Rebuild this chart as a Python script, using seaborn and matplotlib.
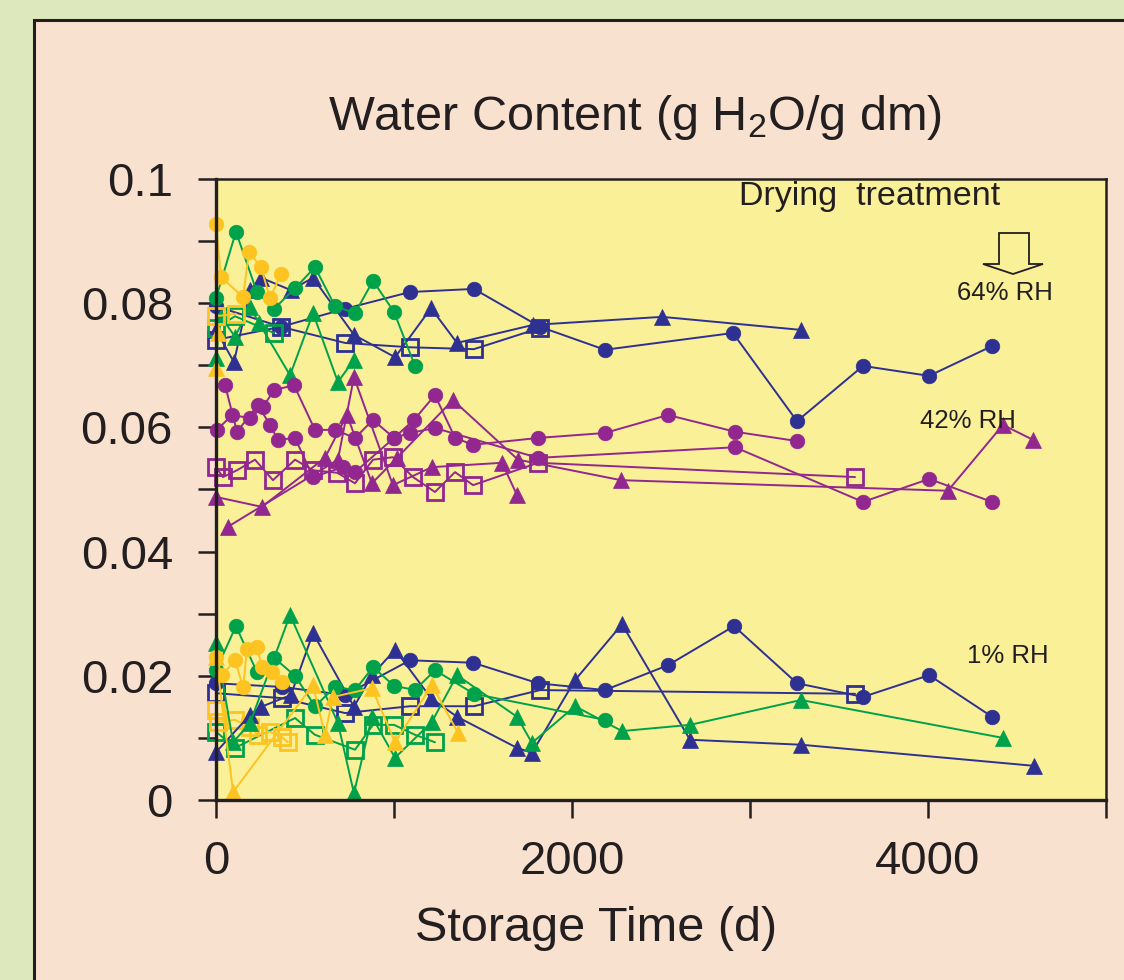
import numpy as np
import pandas as pd
import matplotlib
matplotlib.use("Agg")
import matplotlib.pyplot as plt
import seaborn as sns
from matplotlib.patches import Rectangle, Polygon
from matplotlib.ticker import FixedLocator, FuncFormatter

# ---------------- data (storage time in days, water content g H2O / g dm) ----------------
# 64% RH
nav_c64_x = [0, 365, 725, 1090, 1449, 1820, 2185, 2904, 3264, 3635, 4006, 4360]
nav_c64_y = [0.0795, 0.0762, 0.0791, 0.0818, 0.0823, 0.0762, 0.0725, 0.0752, 0.0610, 0.0699, 0.0683, 0.0731]
nav_t64_x = [0, 101, 191, 253, 421, 545, 775, 1006, 1208, 1354, 1781, 2506, 3287]
nav_t64_y = [0.0757, 0.0705, 0.0821, 0.0841, 0.0821, 0.0841, 0.0749, 0.0713, 0.0792, 0.0736, 0.0765, 0.0778, 0.0757]
nav_s64_x = [0, 365, 725, 1090, 1449, 1820]
nav_s64_y = [0.0741, 0.0762, 0.0736, 0.0729, 0.0726, 0.0760]
grn_c64_x = [0, 112, 230, 326, 444, 556, 669, 781, 882, 1000, 1118]
grn_c64_y = [0.0808, 0.0915, 0.0818, 0.0791, 0.0824, 0.0858, 0.0795, 0.0784, 0.0836, 0.0786, 0.0699]
grn_t64_x = [0, 28, 107, 191, 242, 416, 545, 685, 775]
grn_t64_y = [0.0712, 0.0778, 0.0746, 0.0794, 0.0768, 0.0684, 0.0784, 0.0673, 0.0709]
grn_s64_x = [0, 107, 326]
grn_s64_y = [0.0760, 0.0779, 0.0752]
yel_c64_x = [0, 28, 152, 185, 253, 303, 365]
yel_c64_y = [0.0928, 0.0842, 0.0810, 0.0882, 0.0858, 0.0808, 0.0847]
yel_t64_x = [0, 11]
yel_t64_y = [0.0696, 0.0752]
yel_s64_x = [0, 112]
yel_s64_y = [0.0779, 0.0783]

# 42% RH
pur_c1_x = [6, 90, 191, 264, 326, 438, 556, 669, 781, 882, 1000, 1112, 1230, 1343, 1444, 1809, 2185, 2539, 2916, 3264]
pur_c1_y = [0.0596, 0.0620, 0.0615, 0.0633, 0.0660, 0.0668, 0.0596, 0.0596, 0.0583, 0.0612, 0.0583, 0.0612,
            0.0652, 0.0583, 0.0572, 0.0583, 0.0591, 0.0620, 0.0593, 0.0578]
pur_c2_x = [51, 118, 236, 303, 348, 444, 545, 713, 781, 1000, 1090, 1230, 1809, 2916, 3635, 4006, 4360]
pur_c2_y = [0.0668, 0.0593, 0.0636, 0.0604, 0.0580, 0.0583, 0.0520, 0.0536, 0.0528, 0.0583, 0.0591, 0.0599,
            0.0551, 0.0568, 0.0480, 0.0517, 0.0480]
pur_t1_x = [0, 258, 612, 736, 876, 1017, 1331, 1697, 2275, 4112, 4421, 4590]
pur_t1_y = [0.0488, 0.0472, 0.0551, 0.0620, 0.0510, 0.0551, 0.0644, 0.0548, 0.0515, 0.0498, 0.0604, 0.0580]
pur_t2_x = [67, 685, 775, 994, 1213, 1607, 1691]
pur_t2_y = [0.0440, 0.0548, 0.0681, 0.0507, 0.0536, 0.0543, 0.0491]
pur_s_x = [0, 39, 118, 219, 320, 444, 545, 680, 781, 882, 994, 1107, 1230, 1343, 1444, 1809, 3590]
pur_s_y = [0.0536, 0.0520, 0.0531, 0.0548, 0.0515, 0.0548, 0.0531, 0.0527, 0.0510, 0.0548, 0.0552, 0.0520,
           0.0496, 0.0528, 0.0507, 0.0543, 0.0520]

# 1% RH
nav_c1_x = [0, 371, 725, 1090, 1444, 1809, 2185, 2539, 2910, 3264, 3635, 4006, 4360]
nav_c1_y = [0.0188, 0.0182, 0.0169, 0.0225, 0.0221, 0.0188, 0.0177, 0.0217, 0.0280, 0.0188, 0.0166, 0.0201, 0.0134]
nav_t1_x = [0, 191, 253, 421, 545, 775, 876, 1006, 1208, 1354, 1691, 1775, 2017, 2281, 2663, 3287, 4596]
nav_t1_y = [0.0077, 0.0137, 0.0150, 0.0169, 0.0269, 0.0150, 0.0201, 0.0242, 0.0164, 0.0134, 0.0084, 0.0076,
            0.0193, 0.0283, 0.0097, 0.0089, 0.0055]
nav_s1_x = [0, 371, 725, 1090, 1449, 1820, 3590]
nav_s1_y = [0.0172, 0.0164, 0.0140, 0.0151, 0.0151, 0.0177, 0.0171]
grn_c1_x = [0, 112, 230, 326, 444, 556, 669, 781, 882, 1000, 1118, 1230, 1449, 2185]
grn_c1_y = [0.0209, 0.0280, 0.0206, 0.0229, 0.0200, 0.0151, 0.0182, 0.0177, 0.0214, 0.0184, 0.0177, 0.0209, 0.0171, 0.0129]
grn_t1_x = [0, 96, 191, 416, 685, 775, 876, 1006, 1213, 1354, 1691, 1775, 2017, 2281, 2663, 3287, 4421]
grn_t1_y = [0.0253, 0.0093, 0.0124, 0.0298, 0.0124, 0.0011, 0.0134, 0.0068, 0.0126, 0.0201, 0.0134, 0.0092,
            0.0151, 0.0111, 0.0121, 0.0161, 0.0100]
grn_s1_x = [0, 107, 444, 556, 781, 882, 1000, 1118, 1230]
grn_s1_y = [0.0110, 0.0084, 0.0132, 0.0105, 0.0081, 0.0121, 0.0121, 0.0105, 0.0093]
yel_c1_x = [0, 34, 107, 152, 174, 230, 258, 315, 371]
yel_c1_y = [0.0230, 0.0201, 0.0225, 0.0182, 0.0243, 0.0246, 0.0214, 0.0206, 0.0190]
yel_t1_x = [0, 96, 545, 612, 657, 876, 1006, 1213, 1360]
yel_t1_y = [0.0230, 0.0013, 0.0185, 0.0105, 0.0166, 0.0180, 0.0093, 0.0185, 0.0108]
yel_s1_x = [0, 11, 107, 191, 236, 303, 371, 404]
yel_s1_y = [0.0145, 0.0126, 0.0129, 0.0118, 0.0105, 0.0110, 0.0101, 0.0093]

x_ticks = [0, 1000, 2000, 3000, 4000, 5000]
x_labels = ["0", "", "2000", "", "4000", ""]
y_ticks = [0, 0.01, 0.02, 0.03, 0.04, 0.05, 0.06, 0.07, 0.08, 0.09, 0.1]
y_labels = ["0", "", "0.02", "", "0.04", "", "0.06", "", "0.08", "", "0.1"]

title = r"Water Content (g H$_\mathrm{2}$O/g dm)"
xlabel = "Storage Time (d)"
rh_labels = ["64% RH", "42% RH", "1% RH"]
note = "Drying  treatment"

# ---------------- style ----------------
NAVY = "#2e3192"
GREEN = "#00a14b"
GOLD = "#fdc421"
PURPLE = "#92278f"
BG = "#dde8bd"
PEACH = "#f9e1cf"
AXBG = "#faf097"
DARK = "#231f20"

sns.set_style("ticks")
plt.rcParams['font.family'] = ['Liberation Sans', 'DejaVu Sans']
plt.rcParams['mathtext.fontset'] = 'custom'
plt.rcParams['mathtext.rm'] = 'Liberation Sans'
plt.rcParams['mathtext.it'] = 'Liberation Sans:italic'
plt.rcParams['mathtext.bf'] = 'Liberation Sans:bold'

fig = plt.figure(figsize=(11.24, 9.8), dpi=100, facecolor=BG)
fig.patches.append(Rectangle((34 / 1124, -0.1), 1.2, 1.1 - 20 / 980, transform=fig.transFigure,
                             facecolor=PEACH, edgecolor=DARK, lw=2.2, zorder=-10))
ax = fig.add_axes([216 / 1124, 1 - 800 / 980, 890 / 1124, 621 / 980])
ax.set_zorder(1)
ax.set_facecolor(AXBG)

series = [
    (nav_c64_x, nav_c64_y, NAVY, 'o'), (nav_t64_x, nav_t64_y, NAVY, '^'), (nav_s64_x, nav_s64_y, NAVY, 's'),
    (grn_c64_x, grn_c64_y, GREEN, 'o'), (grn_t64_x, grn_t64_y, GREEN, '^'), (grn_s64_x, grn_s64_y, GREEN, 's'),
    (yel_c64_x, yel_c64_y, GOLD, 'o'), (yel_t64_x, yel_t64_y, GOLD, '^'), (yel_s64_x, yel_s64_y, GOLD, 's'),
    (pur_s_x, pur_s_y, PURPLE, 's'),
    (pur_c1_x, pur_c1_y, PURPLE, 'o'), (pur_c2_x, pur_c2_y, PURPLE, 'o'),
    (pur_t1_x, pur_t1_y, PURPLE, '^'), (pur_t2_x, pur_t2_y, PURPLE, '^'),
    (grn_s1_x, grn_s1_y, GREEN, 's'), (nav_s1_x, nav_s1_y, NAVY, 's'), (yel_s1_x, yel_s1_y, GOLD, 's'),
    (nav_c1_x, nav_c1_y, NAVY, 'o'), (nav_t1_x, nav_t1_y, NAVY, '^'),
    (grn_c1_x, grn_c1_y, GREEN, 'o'), (grn_t1_x, grn_t1_y, GREEN, '^'),
    (yel_c1_x, yel_c1_y, GOLD, 'o'), (yel_t1_x, yel_t1_y, GOLD, '^'),
]

for xs, ys, col, mk in series:
    df = pd.DataFrame({"d": xs, "w": ys})
    if mk == 's':
        sns.lineplot(data=df, x="d", y="w", sort=False, estimator=None, ax=ax, color=col, lw=1.4,
                     marker='s', markersize=11.5, mfc='none', mec=col, mew=2.0, clip_on=False)
    else:
        ms = 10.5 if mk == 'o' else 11.5
        sns.lineplot(data=df, x="d", y="w", sort=False, estimator=None, ax=ax, color=col, lw=1.4,
                     marker=mk, markersize=ms, mfc=col, mec=col, mew=0.5, clip_on=False)

ax.set_xlim(0, 5000)
ax.set_ylim(0, 0.1)
ax.xaxis.set_major_locator(FixedLocator(x_ticks))
ax.xaxis.set_major_formatter(FuncFormatter(lambda v, p: x_labels[p] if p is not None and p < len(x_labels) else ""))
ax.yaxis.set_major_locator(FixedLocator(y_ticks))
ax.yaxis.set_major_formatter(FuncFormatter(lambda v, p: y_labels[p] if p is not None and p < len(y_labels) else ""))
ax.tick_params(axis='both', direction='out', length=13, width=1.8, color=DARK, labelcolor=DARK)
ax.tick_params(axis='y', pad=18, labelsize=34)
ax.tick_params(axis='x', pad=16, labelsize=34)
for s in ax.spines.values():
    s.set_color(DARK)
    s.set_linewidth(1.8)
    s.set_visible(True)
ax.spines['left'].set_linewidth(2.4)
ax.spines['bottom'].set_linewidth(2.4)

ax.set_ylabel("")
ax.set_xlabel(xlabel, fontsize=35, color=DARK)
ax.xaxis.set_label_coords((596 - 216) / 890, (800 - 928) / 621)
ax.xaxis.label.set_verticalalignment('center')

ax.text((635 - 216) / 890, (800 - 118) / 621, title, transform=ax.transAxes, ha='center', va='center',
        fontsize=35, color=DARK)
ax.text((870 - 216) / 890, (800 - 197) / 621, note, transform=ax.transAxes, ha='center', va='center',
        fontsize=24.5, color=DARK)
rh_pos = [(1005, 293), (968, 421), (1008, 656)]
for lab, (px, py) in zip(rh_labels, rh_pos):
    ax.text((px - 216) / 890, (800 - py) / 621, lab, transform=ax.transAxes, ha='center', va='center',
            fontsize=18.5, color=DARK)

arrow_px = [(999, 233), (1029, 233), (1029, 264), (1043, 264), (1013, 274), (983, 264), (999, 264)]
arrow_ax = [((px - 216) / 890, (800 - py) / 621) for px, py in arrow_px]
ax.add_patch(Polygon(arrow_ax, closed=True, transform=ax.transAxes, facecolor='none', edgecolor=DARK,
                     lw=1.3, zorder=5))

fig.savefig("out.png", dpi=100, facecolor=fig.get_facecolor())
